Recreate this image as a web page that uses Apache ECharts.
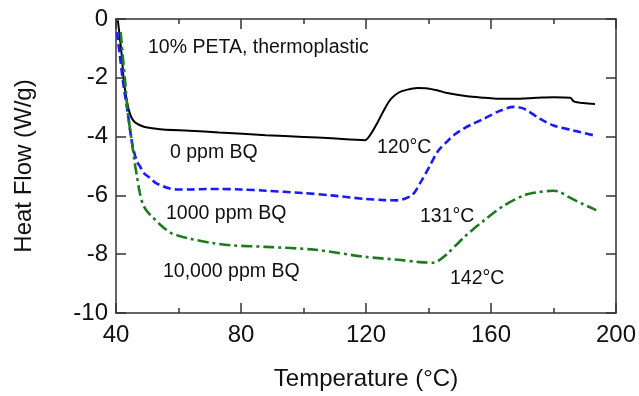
<!DOCTYPE html>
<html>
<head>
<meta charset="utf-8">
<script src="https://cdn.jsdelivr.net/npm/echarts@6/dist/echarts.min.js"></script>
<style>
html,body{margin:0;padding:0;background:#fff;}
#chart{width:639px;height:396px;}
</style>
</head>
<body>
<div id="chart"></div>
<script>
// Data (Temperature °C, Heat Flow W/g)
var bq0 = [
  [40.6,-0.05],[41.3,-0.7],[41.9,-1.3],[42.5,-2.1],[43.5,-2.8],[44.4,-3.2],[45.5,-3.45],[46.7,-3.56],
  [48.5,-3.65],[50,-3.69],[55,-3.76],[63.5,-3.8],[73,-3.86],[88,-3.95],[100,-4.01],[109,-4.06],
  [119.7,-4.12],[121.5,-3.92],[123.8,-3.5],[126,-3.05],[128,-2.72],[130.5,-2.5],[133,-2.41],
  [136.5,-2.35],[139.7,-2.36],[143,-2.43],[146,-2.52],[152.4,-2.63],[158,-2.68],[162,-2.71],
  [167.3,-2.71],[174.6,-2.68],[180,-2.66],[185.4,-2.68],[186.5,-2.8],[189.5,-2.86],[193.3,-2.89]
];
var bq1000 = [
  [40.3,-0.45],[41.2,-1.2],[42.2,-2.1],[43.8,-3.22],[44.8,-4.0],[45.5,-4.4],[46.7,-4.85],[47.6,-5.0],
  [49,-5.25],[50.8,-5.4],[52.8,-5.58],[54.9,-5.68],[57,-5.76],[59.4,-5.8],[63.5,-5.8],[68.9,-5.78],
  [73,-5.78],[80,-5.8],[88,-5.84],[100,-5.92],[108.9,-6.0],[119.7,-6.12],[126,-6.16],[130.2,-6.17],
  [132.2,-6.12],[134.9,-5.98],[137.5,-5.55],[140.6,-4.96],[143,-4.5],[146,-4.16],[148.5,-3.92],
  [151.4,-3.72],[154.5,-3.55],[157.8,-3.39],[162.9,-3.12],[167.3,-2.99],[170.5,-3.05],[175.6,-3.39],
  [180,-3.62],[186.3,-3.79],[193,-3.96]
];
var bq10000 = [
  [41.5,-0.45],[42.2,-1.3],[42.9,-2.1],[43.8,-3.2],[45.1,-4.2],[46,-4.9],[46.7,-5.35],[47.6,-5.9],
  [48.6,-6.3],[50,-6.55],[51.7,-6.74],[54,-6.98],[56.2,-7.18],[58,-7.3],[60.3,-7.38],[63.5,-7.47],
  [70.8,-7.62],[77,-7.7],[88,-7.75],[103.8,-7.85],[119.7,-8.09],[130.2,-8.19],[136.5,-8.26],
  [141.9,-8.29],[143.5,-8.2],[146,-7.99],[151.4,-7.42],[157.8,-6.85],[164.1,-6.35],[170.5,-6.0],
  [174.6,-5.9],[180,-5.84],[182,-5.88],[185.1,-6.07],[189.5,-6.3],[193.7,-6.5]
];
var seriesNames = ['0 ppm BQ','1000 ppm BQ','10,000 ppm BQ'];
var xTitle = 'Temperature (°C)';
var yTitle = 'Heat Flow (W/g)';
var sampleLabel = '10% PETA, thermoplastic';
var onsetLabels = ['120°C','131°C','142°C'];

var FONT = '"Liberation Sans", Arial, sans-serif';
var axisColor = '#333';
var chart = echarts.init(document.getElementById('chart'), null, {renderer:'canvas'});

function xAxisCfg(pos, showLabels){
  return {
    type:'value', min:40, max:200, interval:40, position:pos,
    axisLine:{show:true, onZero:false, lineStyle:{color:axisColor, width:1.5}},
    axisTick:{show:true, inside:true, length:10, lineStyle:{color:axisColor, width:1.5}},
    minorTick:{show:true, splitNumber:2, length:5, lineStyle:{color:axisColor, width:1.5}},
    splitLine:{show:false}, minorSplitLine:{show:false},
    axisLabel:{show:showLabels, fontSize:24, color:'#111', fontFamily:FONT, margin:10},
    name: showLabels ? xTitle : '', nameLocation:'middle', nameGap:54,
    nameTextStyle:{fontSize:24, color:'#111', fontFamily:FONT}
  };
}
function yAxisCfg(pos, showLabels){
  return {
    type:'value', min:-10, max:0, interval:2, position:pos,
    axisLine:{show:true, onZero:false, lineStyle:{color:axisColor, width:1.5}},
    axisTick:{show:true, inside:true, length:10, lineStyle:{color:axisColor, width:1.5}},
    splitLine:{show:false},
    axisLabel:{show:showLabels, fontSize:24, color:'#111', fontFamily:FONT, margin:8, padding:[6,0,0,0]},
    name: showLabels ? yTitle : '', nameLocation:'middle', nameGap:80,
    nameTextStyle:{fontSize:24, color:'#111', fontFamily:FONT}
  };
}

function txt(t, x, y, size){
  return {type:'text', x:x, y:y, silent:true,
    style:{text:t, fontSize:size||19.5, fontFamily:FONT, fill:'#111', verticalAlign:'middle'}};
}

chart.setOption({
  animation:false,
  backgroundColor:'#fff',
  grid:{left:116, right:19, top:19, bottom:79, containLabel:false},
  xAxis:[xAxisCfg('bottom', true), xAxisCfg('top', false)],
  yAxis:[yAxisCfg('left', true), yAxisCfg('right', false)],
  series:[
    {name:seriesNames[0], type:'line', data:bq0, showSymbol:false, smooth:0.3,
     lineStyle:{color:'#000', width:2}},
    {name:seriesNames[1], type:'line', data:bq1000, showSymbol:false, smooth:0.3,
     lineStyle:{color:'#1a1aff', width:2.6, type:[8,4]}},
    {name:seriesNames[2], type:'line', data:bq10000, showSymbol:false, smooth:0.3,
     lineStyle:{color:'#1e7a1e', width:2.6, type:[11,4,3,4]}}
  ],
  graphic:[
    txt(sampleLabel, 148, 48),
    txt(seriesNames[0], 170, 153),
    txt(onsetLabels[0], 377, 148),
    txt(seriesNames[1], 166, 214),
    txt(onsetLabels[1], 420, 217),
    txt(seriesNames[2], 163, 272),
    txt(onsetLabels[2], 450, 279)
  ]
});
</script>
</body>
</html>
